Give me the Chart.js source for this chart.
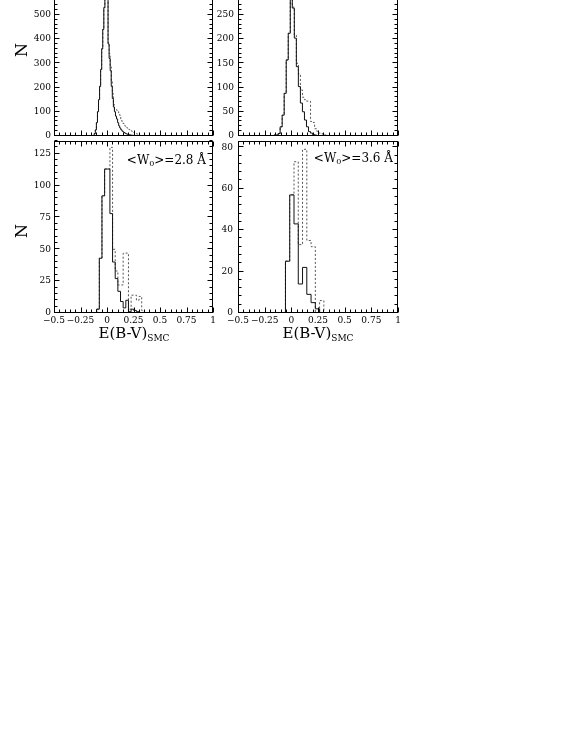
<!DOCTYPE html>
<html>
<head>
<meta charset="utf-8">
<script src="https://cdn.jsdelivr.net/npm/chart.js@4"></script>
<style>
  html, body { margin: 0; padding: 0; background: #fff; }
  body { width: 581px; height: 752px; position: relative; overflow: hidden; font-family: 'DejaVu Serif', serif; color: #000; }
  canvas { position: absolute; }
  .lbl { position: absolute; white-space: nowrap; line-height: 1; }
  .ylab { width: 40px; height: 20px; font-size: 16px; text-align: center; line-height: 20px; transform: rotate(-90deg); }
  .xlab { width: 160px; font-size: 15px; text-align: center; }
  .xlab sub { font-size: 9px; vertical-align: -3px; }
  .note { font-size: 12px; text-align: right; }
  .note sub { font-size: 8px; vertical-align: -2px; }
</style>
</head>
<body>
<canvas id="c-tl" width="216" height="181" style="left:0;top:-42px"></canvas>
<canvas id="c-tr" width="201" height="181" style="left:200px;top:-42px"></canvas>
<canvas id="c-bl" width="216" height="200" style="left:0;top:131px"></canvas>
<canvas id="c-br" width="201" height="200" style="left:200px;top:131px"></canvas>

<div class="lbl ylab" style="left:2px;top:40px">N</div>
<div class="lbl ylab" style="left:2px;top:221px">N</div>
<div class="lbl xlab" style="left:54px;top:326px">E(B-V)<sub>SMC</sub></div>
<div class="lbl xlab" style="left:238px;top:326px">E(B-V)<sub>SMC</sub></div>
<div class="lbl note" style="right:375px;top:154px">&lt;W<sub>0</sub>&gt;=2.8 Å</div>
<div class="lbl note" style="right:188px;top:152px">&lt;W<sub>0</sub>&gt;=3.6 Å</div>

<script>
// ── DADOS ────────────────────────────────────────────────────────────────────
// cada histograma: borda esquerda do primeiro bin, largura do bin, contagens

const xTicks = [-0.5, -0.25, 0, 0.25, 0.5, 0.75, 1]

// painel superior esquerdo
const tlStart = -0.14
const tlWidth = 0.01
const tlSolid = [1, 3, 10, 25, 55, 100, 150, 205, 275, 360, 440, 530, 620, 690, 600,
  380, 320, 270, 205, 155, 120, 100, 82, 70, 55, 42, 33, 26, 21, 17, 14, 11, 9, 7, 6,
  5, 4, 3, 3, 2, 2, 1, 1, 1]
const tlDotted = [1, 3, 10, 25, 55, 100, 150, 205, 275, 360, 440, 530, 620, 690, 600,
  385, 340, 290, 225, 175, 130, 112, 110, 106, 100, 95, 85, 70, 60, 52, 45, 40, 36, 32,
  28, 26, 24, 20, 17, 15, 13, 11, 8, 5, 4, 2, 2, 1, 1]
const tlYTicks = [0, 100, 200, 300, 400, 500, 600, 700]

// painel superior direito
const trStart = -0.162
const trWidth = 0.019
const trSolid = [2, 2, 5, 19, 43, 88, 157, 212, 300, 264, 202, 143, 102, 68, 50, 33,
  19, 9, 6, 3, 2, 1, 1, 0, 1]
const trDotted = [2, 2, 5, 19, 43, 88, 157, 212, 300, 266, 208, 150, 128, 95, 80, 75,
  72, 72, 30, 28, 15, 10, 6, 5, 3, 2, 1]
const trYTicks = [0, 50, 100, 150, 200, 250, 300, 350]

// painel inferior esquerdo  (<W0> = 2.8 Å)
const blStart = -0.0975
const blWidth = 0.025
const blSolid = [3, 43, 92, 113, 113, 78, 40, 27, 17, 9, 4, 10, 1, 3, 2, 1]
const blDotted = [3, 43, 92, 113, 113, 130, 50, 33, 22, 22, 47, 47, 3, 14, 14, 10, 13, 2]
const blYTicks = [0, 25, 50, 75, 100, 125]

// painel inferior direito  (<W0> = 3.6 Å)
const brStart = -0.055
const brWidth = 0.04
const brSolid = [25, 57, 43, 14, 22, 9, 5, 2]
const brDotted = [25, 57, 73, 33, 79, 35, 32, 0, 6]
const brYTicks = [0, 20, 40, 60, 80]

// ── HELPERS ──────────────────────────────────────────────────────────────────

const tickFont = { family: 'DejaVu Serif', size: 9 }

function fmt(v) {
  return String(v).replace('-', '\u2212')
}

// pontos em degrau: começa e termina na linha de base
function histPoints(start, width, counts) {
  const pts = [{ x: start, y: 0 }]
  counts.forEach((c, i) => pts.push({ x: start + i * width, y: c }))
  pts.push({ x: start + counts.length * width, y: 0 })
  return pts
}

function isMajor(v, ticks) {
  return ticks.some(t => Math.abs(t.value - v) < 1e-6)
}

// moldura com ticks para dentro nos quatro lados
const frameTicks = {
  id: 'frameTicks',
  afterDraw(chart, args, opts) {
    const { ctx, chartArea: a, scales: { x, y } } = chart
    const L = Math.round(a.left) + 0.5
    const R = Math.round(a.right) - 0.5
    const T = Math.round(a.top) + 0.5
    const B = Math.round(a.bottom) - 0.5
    ctx.save()
    ctx.strokeStyle = '#000'
    ctx.lineWidth = 1
    ctx.beginPath()
    const nx = Math.round((x.max - x.min) / opts.xMinor)
    for (let i = 0; i <= nx; i++) {
      const v = x.min + i * opts.xMinor
      const len = isMajor(v, x.ticks) ? 5 : 3
      const px = Math.round(x.getPixelForValue(v)) + 0.5
      ctx.moveTo(px, B); ctx.lineTo(px, B - len)
      ctx.moveTo(px, T); ctx.lineTo(px, T + len)
    }
    const ny = Math.floor((y.max - y.min) / opts.yMinor + 1e-6)
    for (let i = 0; i <= ny; i++) {
      const v = y.min + i * opts.yMinor
      const len = isMajor(v, y.ticks) ? 5 : 3
      const py = Math.round(y.getPixelForValue(v)) - 0.5
      ctx.moveTo(L, py); ctx.lineTo(L + len, py)
      ctx.moveTo(R, py); ctx.lineTo(R - len, py)
    }
    ctx.stroke()
    ctx.strokeRect(L, T, R - L, B - T)
    ctx.restore()
  }
}

function makePanel(id, p) {
  return new Chart(document.getElementById(id), {
    type: 'line',
    data: {
      datasets: [
        {
          data: histPoints(p.start, p.width, p.solid),
          borderColor: '#111',
          borderWidth: 1,
          pointRadius: 0,
          stepped: 'before',
          fill: false
        },
        {
          data: histPoints(p.start, p.width, p.dotted),
          borderColor: '#555',
          borderWidth: 1,
          borderDash: [2, 2],
          pointRadius: 0,
          stepped: 'before',
          fill: false
        }
      ]
    },
    options: {
      responsive: false,
      animation: false,
      devicePixelRatio: 1,
      events: [],
      layout: { padding: { top: p.padTop, right: 3, left: 0, bottom: 0 } },
      plugins: {
        legend: { display: false },
        tooltip: { enabled: false },
        frameTicks: { xMinor: 0.05, yMinor: p.yMinor }
      },
      scales: {
        x: {
          type: 'linear',
          min: -0.5,
          max: 1,
          grid: { display: false, drawTicks: false },
          border: { display: false },
          afterBuildTicks: s => { s.ticks = xTicks.map(v => ({ value: v })) },
          afterFit: s => { s.height = p.xHeight; s.paddingLeft = 0; s.paddingRight = 0 },
          ticks: {
            display: p.xLabels,
            autoSkip: false,
            maxRotation: 0,
            padding: 2,
            color: '#000',
            font: tickFont,
            callback: v => fmt(v)
          }
        },
        y: {
          min: 0,
          max: p.yMax,
          grid: { display: false, drawTicks: false },
          border: { display: false },
          afterBuildTicks: s => { s.ticks = p.yTicks.map(v => ({ value: v })) },
          afterFit: s => { s.width = p.yWidth; s.paddingTop = 0; s.paddingBottom = 0 },
          ticks: {
            autoSkip: false,
            padding: p.yPad,
            color: '#000',
            font: tickFont,
            callback: v => fmt(v)
          }
        }
      }
    },
    plugins: [frameTicks]
  })
}

// ── RENDERIZAÇÃO ─────────────────────────────────────────────────────────────

makePanel('c-tl', {
  start: tlStart, width: tlWidth, solid: tlSolid, dotted: tlDotted,
  yMax: 710, yTicks: tlYTicks, yMinor: 20,
  padTop: 6, xHeight: 3, xLabels: false, yWidth: 54, yPad: 3
})
makePanel('c-tr', {
  start: trStart, width: trWidth, solid: trSolid, dotted: trDotted,
  yMax: 355, yTicks: trYTicks, yMinor: 10,
  padTop: 6, xHeight: 3, xLabels: false, yWidth: 38, yPad: 4
})
makePanel('c-bl', {
  start: blStart, width: blWidth, solid: blSolid, dotted: blDotted,
  yMax: 135, yTicks: blYTicks, yMinor: 5,
  padTop: 10, xHeight: 18, xLabels: true, yWidth: 54, yPad: 3
})
makePanel('c-br', {
  start: brStart, width: brWidth, solid: brSolid, dotted: brDotted,
  yMax: 83, yTicks: brYTicks, yMinor: 4,
  padTop: 10, xHeight: 18, xLabels: true, yWidth: 38, yPad: 5
})
</script>
</body>
</html>
